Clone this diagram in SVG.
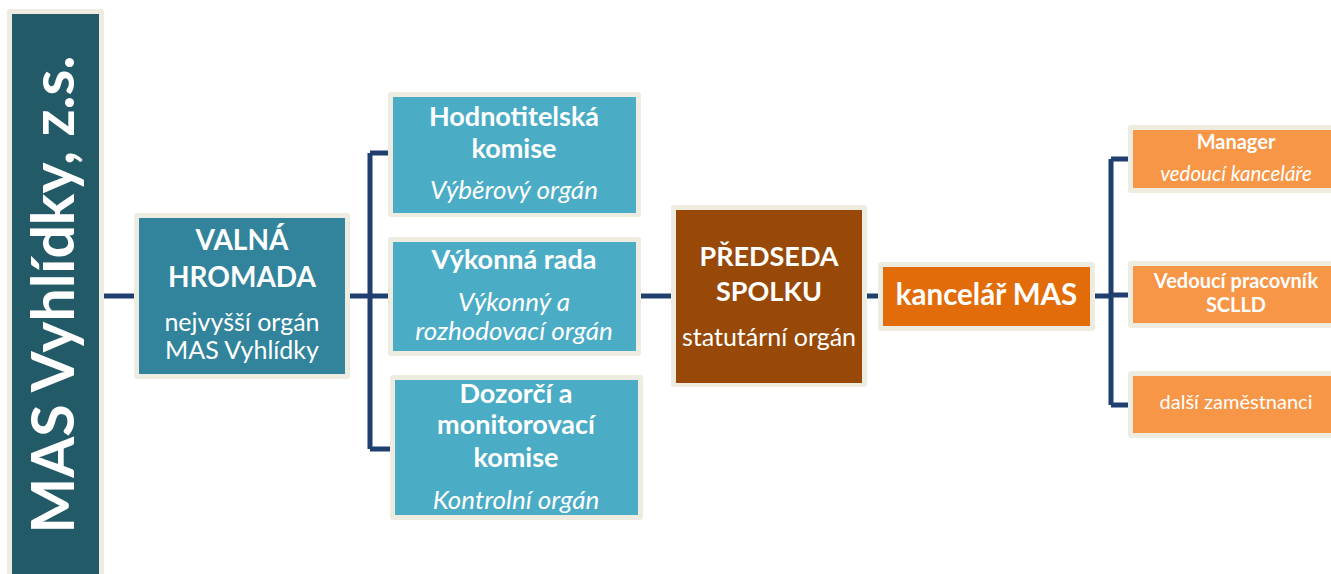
<svg xmlns="http://www.w3.org/2000/svg" width="1331" height="574" viewBox="0 0 1331 574">
<style>
.frame{fill:#EEECE1}
.t{fill:#FFFFFF;font-family:Lato,"Open Sans","Liberation Sans",sans-serif;text-anchor:middle}
.b{font-weight:bold}
.i{font-style:italic}
.conn{stroke:#1F3F6E;stroke-width:5;fill:none}
</style>
<rect width="1331" height="574" fill="#FFFFFF"/>
<g id="connectors">
<path class="conn" d="M104,296 H134"/>
<path class="conn" d="M350,296 H370 M370,153 V449 M370,153 H390 M370,296 H390 M370,449 H392"/>
<path class="conn" d="M641,296 H671"/>
<path class="conn" d="M867,296 H878"/>
<path class="conn" d="M1095,296 H1111 M1111,159 V405 M1111,159 H1128 M1111,295 H1128 M1111,405 H1128"/>
</g>
<g id="mas">
<rect class="frame" x="7" y="9" width="97" height="570" rx="3"/>
<rect x="12" y="14" width="87" height="565" fill="#235A68"/>
<text class="t b" transform="translate(74,294.5) rotate(-90)" font-size="59">MAS Vyhlídky, z.s.</text>
</g>
<g id="valna">
<rect class="frame" x="134" y="213" width="216" height="166" rx="3"/>
<rect x="139" y="218" width="206" height="156" fill="#31849B"/>
<text class="t b" x="242" y="250" font-size="28">VALNÁ</text>
<text class="t b" x="242" y="287" font-size="28">HROMADA</text>
<text class="t" x="242" y="331" font-size="25">nejvyšší orgán</text>
<text class="t" x="242" y="359" font-size="25">MAS Vyhlídky</text>
</g>
<g id="hodnotitelska">
<rect class="frame" x="388" y="92" width="253" height="125" rx="3"/>
<rect x="393" y="97" width="243" height="116" fill="#4BACC6"/>
<text class="t b" x="514" y="126" font-size="27">Hodnotitelská</text>
<text class="t b" x="514" y="158" font-size="27">komise</text>
<text class="t i" x="514" y="199" font-size="26">Výběrový orgán</text>
</g>
<g id="vykonna">
<rect class="frame" x="388" y="237" width="253" height="119" rx="3"/>
<rect x="393" y="242" width="243" height="109" fill="#4BACC6"/>
<text class="t b" x="514" y="269" font-size="27">Výkonná rada</text>
<text class="t i" x="514" y="311" font-size="26">Výkonný a</text>
<text class="t i" x="514" y="340" font-size="26">rozhodovací orgán</text>
</g>
<g id="dozorci">
<rect class="frame" x="390" y="375" width="253" height="145" rx="3"/>
<rect x="395" y="380" width="243" height="135" fill="#4BACC6"/>
<text class="t b" x="516" y="403" font-size="27">Dozorčí a</text>
<text class="t b" x="516" y="434" font-size="27">monitorovací</text>
<text class="t b" x="516" y="467" font-size="27">komise</text>
<text class="t i" x="516" y="509" font-size="26">Kontrolní orgán</text>
</g>
<g id="predseda">
<rect class="frame" x="671" y="205" width="196" height="182" rx="3"/>
<rect x="676" y="210" width="186" height="173" fill="#984807"/>
<text class="t b" x="769" y="266" font-size="27">PŘEDSEDA</text>
<text class="t b" x="769" y="301" font-size="27">SPOLKU</text>
<text class="t" x="769" y="346" font-size="25">statutární orgán</text>
</g>
<g id="kancelar">
<rect class="frame" x="878" y="262" width="217" height="69" rx="3"/>
<rect x="883" y="267" width="207" height="59" fill="#E36C0A"/>
<text class="t b" x="986.5" y="305" font-size="29.5">kancelář MAS</text>
</g>
<g id="manager">
<rect class="frame" x="1128" y="125" width="220" height="68" rx="3"/>
<rect x="1133" y="130" width="210" height="58" fill="#F79646"/>
<text class="t b" x="1236" y="149" font-size="20">Manager</text>
<text class="t i" x="1236" y="181" font-size="20.5">vedoucí kanceláře</text>
</g>
<g id="vedouci">
<rect class="frame" x="1128" y="261" width="220" height="67" rx="3"/>
<rect x="1133" y="266" width="210" height="57" fill="#F79646"/>
<text class="t b" x="1236" y="288" font-size="20">Vedoucí pracovník</text>
<text class="t b" x="1236" y="312" font-size="20">SCLLD</text>
</g>
<g id="dalsi">
<rect class="frame" x="1128" y="371" width="220" height="67" rx="3"/>
<rect x="1133" y="376" width="210" height="57" fill="#F79646"/>
<text class="t" x="1236" y="409" font-size="20">další zaměstnanci</text>
</g>
</svg>
